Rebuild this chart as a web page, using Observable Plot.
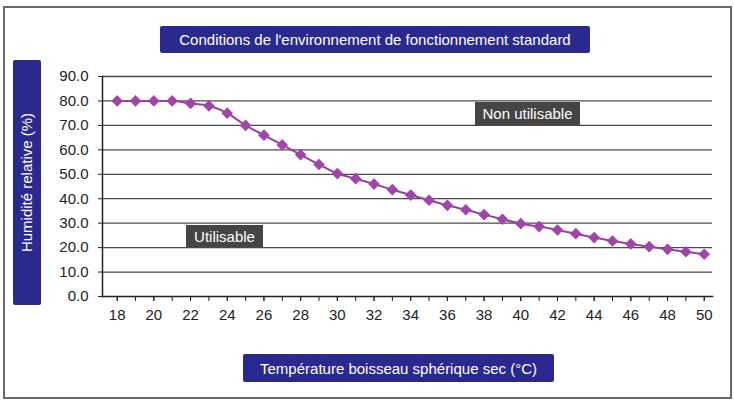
<!DOCTYPE html>
<html><head><meta charset="utf-8">
<script src="https://cdn.jsdelivr.net/npm/d3@7"></script>
<script src="https://cdn.jsdelivr.net/npm/@observablehq/plot@0.6"></script>
<style>
html,body{margin:0;padding:0;background:#fff;}
#wrap{position:relative;width:734px;height:401px;font-family:"Liberation Sans",Arial,sans-serif;}
#frame{position:absolute;left:3px;top:6px;width:725px;height:389px;border:2px solid #6a6a6a;box-sizing:content-box;}
.box{position:absolute;background:#2a2a8e;color:#fff;border-radius:2px;display:flex;align-items:center;justify-content:center;font-size:15px;white-space:nowrap;}
.gbox{position:absolute;background:#454545;color:#fff;display:flex;align-items:center;justify-content:center;font-size:15px;white-space:nowrap;}
#chart{position:absolute;left:0;top:0;}
</style></head><body>
<div id="wrap">
<div id="frame"></div>
<div id="chart"></div>
</div>
<script>
const title = "Conditions de l'environnement de fonctionnement standard";
const yLabel = "Humidité relative (%)";
const xLabel = "Température boisseau sphérique sec (°C)";
const regionUnusable = "Non utilisable";
const regionUsable = "Utilisable";
const temps = [18,19,20,21,22,23,24,25,26,27,28,29,30,31,32,33,34,35,36,37,38,39,40,41,42,43,44,45,46,47,48,49,50];
const humidity = [80,80,80,80,79,78,75,70,66,62,58,54,50.3,48.2,46,43.7,41.5,39.4,37.3,35.5,33.5,31.6,29.8,28.6,27.2,25.7,24.1,22.7,21.5,20.4,19.3,18.3,17.3];
const yTicks = [0,10,20,30,40,50,60,70,80,90];
const xLabelTicks = [18,20,22,24,26,28,30,32,34,36,38,40,42,44,46,48,50];

const data = temps.map((t,i)=>({t, h: humidity[i]}));

const chart = Plot.plot({
  width: 734, height: 401,
  marginLeft: 102, marginRight: 22, marginTop: 76, marginBottom: 105,
  style: {background: "transparent", fontFamily: "'Liberation Sans', Arial, sans-serif", fontSize: "15px", color: "#222"},
  x: {domain: [17.2, 50.45]},
  y: {domain: [0, 90]},
  marks: [
    Plot.ruleY(yTicks.filter(d=>d>0), {stroke: "#4a4a4a", strokeWidth: 1.3}),
    Plot.frame({anchor: "left", stroke: "#222", strokeWidth: 1.5}),
    Plot.frame({anchor: "bottom", stroke: "#222", strokeWidth: 1.5}),
    Plot.axisY(yTicks, {tickFormat: d3.format(".1f"), tickSize: 4, tickPadding: 10, stroke: "#222", fill: "#222", label: null, fontSize: 15}),
    Plot.axisX(temps, {tickSize: 5, tickFormat: () => "", stroke: "#222", label: null}),
    Plot.axisX(xLabelTicks, {tickSize: 5, tickPadding: 8, stroke: "#222", fill: "#222", label: null, fontSize: 15}),
    Plot.line(data, {x: "t", y: "h", stroke: "#9a3e9f", strokeWidth: 2, curve: "monotone-x"}),
    Plot.dot(data, {x: "t", y: "h", symbol: "diamond2", r: 4.3, fill: "#a046a8", stroke: "#a046a8"})
  ]
});
document.getElementById("chart").appendChild(chart);

const wrap = document.getElementById("wrap");
function addBox(cls, text, l, t, w, h, extra) {
  const d = document.createElement("div");
  d.className = cls;
  d.style.left = l + "px"; d.style.top = t + "px"; d.style.width = w + "px"; d.style.height = h + "px";
  const s = document.createElement("span");
  s.textContent = text;
  if (extra) Object.assign(s.style, extra);
  d.appendChild(s);
  wrap.appendChild(d);
  return d;
}
addBox("box", title, 160, 26, 430, 27);
addBox("box", xLabel, 243, 354, 311, 28);
addBox("gbox", regionUnusable, 475, 102, 105, 23);
addBox("gbox", regionUsable, 186, 225, 77, 22);
const yb = addBox("box", "", 13, 60, 28, 245);
const ys = document.createElement("div");
ys.textContent = yLabel;
Object.assign(ys.style, {transform: "rotate(-90deg)", whiteSpace: "nowrap", fontSize: "15px"});
yb.appendChild(ys);
</script>
</body></html>
